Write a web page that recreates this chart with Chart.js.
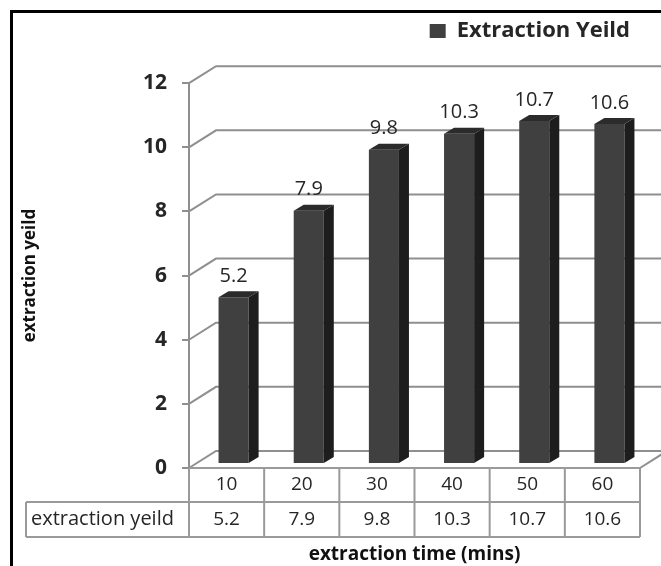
<!DOCTYPE html>
<html>
<head>
<meta charset="utf-8">
<script src="https://cdn.jsdelivr.net/npm/chart.js@4"></script>
<style>
  html, body { margin: 0; padding: 0; background: #fff; }
  #wrap { position: relative; width: 661px; height: 566px; }
</style>
</head>
<body>
<div id="wrap"><canvas id="chart" width="661" height="566"></canvas></div>
<script>
// datos de la grafica
var tiempos = ['10', '20', '30', '40', '50', '60'];
var rendimiento = [5.2, 7.9, 9.8, 10.3, 10.7, 10.6];
var nombreSerie = 'Extraction Yeild';
var etiquetaFila = 'extraction yeild';
var tituloX = 'extraction time (mins)';
var tituloY = 'extraction yeild';
var ejeYMin = 0;
var ejeYMax = 12;
var ejeYPaso = 2;

// profundidad 3D
var fondoDx = 27, fondoDy = -17;   // pared del fondo
var barraDx = 7, barraDy = -4;     // cara frontal de la barra
var ladoDx = 10, ladoDy = -6;      // grosor de la barra

var colorRejilla = '#8f8f8f';
var colorTabla = '#9a9a9a';
var colorTexto = '#262626';
var fuente = "'Open Sans', sans-serif";

//-----------------------------------------------------------------
// plugin: paredes, caras 3D, etiquetas y tabla de datos
//-----------------------------------------------------------------
var plugin3D = {
    id: 'plugin3D',
    beforeDraw: function (chart) {
        var ctx = chart.ctx;
        var area = chart.chartArea;
        var y = chart.scales.y;
        ctx.save();
        ctx.fillStyle = '#fff';
        ctx.fillRect(0, 0, chart.width, chart.height);
        // marco negro
        ctx.fillStyle = '#000';
        ctx.fillRect(10, 10, chart.width - 10, 3);
        ctx.fillRect(10, 10, 3, chart.height - 10);

        // rejilla: diagonal + linea del fondo
        ctx.strokeStyle = colorRejilla;
        ctx.lineWidth = 2;
        for (var v = ejeYMin; v <= ejeYMax; v += ejeYPaso) {
            var py = y.getPixelForValue(v);
            ctx.beginPath();
            ctx.moveTo(area.left, py);
            ctx.lineTo(area.left + fondoDx, py + fondoDy);
            ctx.lineTo(chart.width, py + fondoDy);
            ctx.stroke();
        }
        // suelo, lado derecho
        var p0 = y.getPixelForValue(0);
        ctx.beginPath();
        ctx.moveTo(area.right, p0);
        ctx.lineTo(area.right + fondoDx, p0 + fondoDy);
        ctx.stroke();
        ctx.restore();
    },
    beforeDatasetsDraw: function (chart) {
        chart.ctx.save();
        chart.ctx.translate(barraDx, barraDy);
    },
    afterDatasetsDraw: function (chart) {
        var ctx = chart.ctx;
        var meta = chart.getDatasetMeta(0);
        meta.data.forEach(function (bar, i) {
            var x0 = bar.x - bar.width / 2;
            var x1 = bar.x + bar.width / 2;
            // cara lateral
            ctx.fillStyle = '#1d1d1d';
            ctx.beginPath();
            ctx.moveTo(x1, bar.y);
            ctx.lineTo(x1 + ladoDx, bar.y + ladoDy);
            ctx.lineTo(x1 + ladoDx, bar.base + ladoDy);
            ctx.lineTo(x1, bar.base);
            ctx.closePath();
            ctx.fill();
            // cara superior
            ctx.fillStyle = '#2b2b2b';
            ctx.beginPath();
            ctx.moveTo(x0, bar.y);
            ctx.lineTo(x0 + ladoDx, bar.y + ladoDy);
            ctx.lineTo(x1 + ladoDx, bar.y + ladoDy);
            ctx.lineTo(x1, bar.y);
            ctx.closePath();
            ctx.fill();
            // etiqueta del valor
            ctx.fillStyle = colorTexto;
            ctx.font = '20px ' + fuente;
            ctx.textAlign = 'center';
            ctx.textBaseline = 'middle';
            ctx.fillText(String(rendimiento[i]), bar.x, bar.y - 21);
        });
        ctx.restore();
    },
    afterDraw: function (chart) {
        var ctx = chart.ctx;
        var area = chart.chartArea;
        var x = chart.scales.x;
        var fila1 = chart.scales.y.getPixelForValue(0);
        var fila2 = fila1 + 34;
        var fila3 = fila2 + 35;
        var izq = 26;
        var ancho = (area.right - area.left) / tiempos.length;

        ctx.save();
        ctx.strokeStyle = colorTabla;
        ctx.lineWidth = 2;
        ctx.beginPath();
        ctx.moveTo(area.left, fila1); ctx.lineTo(area.right, fila1);
        ctx.moveTo(izq, fila2); ctx.lineTo(area.right, fila2);
        ctx.moveTo(izq, fila3); ctx.lineTo(area.right, fila3);
        ctx.moveTo(izq, fila2); ctx.lineTo(izq, fila3);
        for (var i = 0; i <= tiempos.length; i++) {
            var cx = area.left + i * ancho;
            ctx.moveTo(cx, fila1); ctx.lineTo(cx, fila3);
        }
        ctx.stroke();

        ctx.fillStyle = colorTexto;
        ctx.font = '19px ' + fuente;
        ctx.textBaseline = 'middle';
        ctx.textAlign = 'center';
        tiempos.forEach(function (t, i) {
            var cx = x.getPixelForValue(i);
            ctx.fillText(t, cx, (fila1 + fila2) / 2);
            ctx.fillText(String(rendimiento[i]), cx, (fila2 + fila3) / 2);
        });
        ctx.textAlign = 'left';
        ctx.font = '20px ' + fuente;
        ctx.fillText(etiquetaFila, izq + 5, (fila2 + fila3) / 2);

        // titulo eje X
        ctx.font = 'bold 19px ' + fuente;
        ctx.fillStyle = '#111';
        ctx.textAlign = 'center';
        ctx.fillText(tituloX, (area.left + area.right) / 2, fila3 + 18);
        ctx.restore();
    }
};

//-----------------------------------------------------------------
// crear grafica
//-----------------------------------------------------------------
let ctx = document.getElementById('chart');
var miGrafica = new Chart(ctx, {
    type: 'bar',
    data: {
        labels: tiempos,
        datasets: [{
            label: nombreSerie,
            data: rendimiento,
            backgroundColor: '#404040',
            borderWidth: 0,
            barPercentage: 0.4,
            categoryPercentage: 1
        }]
    },
    options: {
        responsive: false,
        animation: false,
        layout: {
            padding: { top: 10, left: 14, right: 21, bottom: 98 }
        },
        plugins: {
            legend: {
                position: 'top',
                align: 'end',
                labels: {
                    boxWidth: 16,
                    boxHeight: 14,
                    padding: 10,
                    color: colorTexto,
                    font: { family: fuente, size: 22, weight: 'bold' }
                }
            },
            // espacio entre leyenda y grafica
            subtitle: {
                display: true,
                text: '',
                weight: 10,
                font: { size: 1 },
                padding: { top: 0, bottom: 30 }
            },
            tooltip: { enabled: false }
        },
        scales: {
            x: {
                display: false
            },
            y: {
                min: ejeYMin,
                max: ejeYMax,
                afterFit: function (scale) { scale.width = 175; },
                ticks: {
                    stepSize: ejeYPaso,
                    padding: 15,
                    color: colorTexto,
                    font: { family: fuente, size: 21, weight: 'bold' }
                },
                grid: {
                    display: true,
                    drawOnChartArea: false,
                    drawTicks: true,
                    tickLength: 7,
                    color: colorRejilla,
                    lineWidth: 2
                },
                border: { display: true, color: colorRejilla, width: 2 },
                title: {
                    display: true,
                    text: tituloY,
                    color: '#111',
                    padding: { top: 6, bottom: 4 },
                    font: { family: fuente, size: 17, weight: 'bold' }
                }
            }
        }
    },
    plugins: [plugin3D]
});
</script>
</body>
</html>
